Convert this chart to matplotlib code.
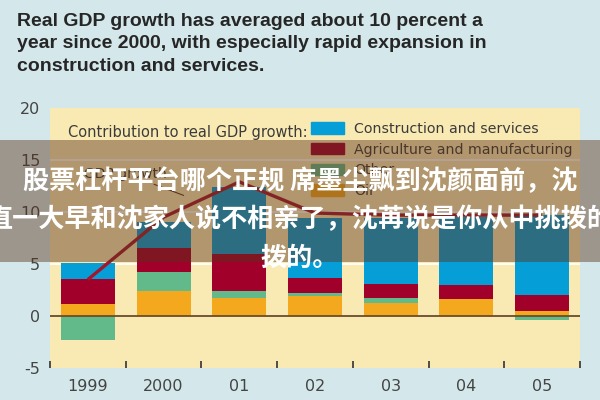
import numpy as np
import matplotlib
matplotlib.use('Agg')
from matplotlib import pyplot as plt
from matplotlib.patches import Patch, Rectangle

plt.rcParams['axes.unicode_minus'] = False

# contributions to real GDP growth, percentage points
years = ['1999', '2000', '01', '02', '03', '04', '05']
construction = [1.5, 2.5, 6.4, 5.75, 6.3, 6.5, 7.7]
agriculture = [2.45, 2.3, 3.6, 1.45, 1.4, 1.4, 1.5]
oil = [1.15, 2.4, 1.7, 1.9, 1.25, 1.6, 0.5]
other = [-2.3, 1.8, 0.7, 0.3, 0.45, 0.0, -0.4]
growth_curve = [3.5, 9.5, 12.9, 9.9, 9.7, 9.7, 9.7]

series = [('Oil', oil, '#f4a81d'),
          ('Other', other, '#62b98a'),
          ('Agriculture and manufacturing', agriculture, '#a1002b'),
          ('Construction and services', construction, '#069ed7')]

BG = '#d4e8eb'
PLOT_BG = '#f9e9b3'
TEXT = '#3b3b3b'

fig = plt.figure(figsize=(6, 4), dpi=100, facecolor=BG)
ax = fig.add_axes([50 / 600, 32 / 400, 530 / 600, 260 / 400])
ax.set_facecolor(PLOT_BG)

x = np.arange(len(years))
pos_bottom = np.zeros(len(years))
neg_bottom = np.zeros(len(years))
for name, values, color in series:
    v = np.array(values)
    bottom = np.where(v >= 0, pos_bottom, neg_bottom)
    ax.bar(x, v, width=0.713, bottom=bottom, color=color, linewidth=0, zorder=2)
    pos_bottom += np.clip(v, 0, None)
    neg_bottom += np.clip(v, None, 0)

for g in [5, 10, 15]:
    ax.axhline(g, color='white', linewidth=1.3, zorder=1)
ax.axhline(0, color='#6b4b2c', linewidth=1.3, zorder=3)

ax.plot(x, growth_curve, color='#a3162c', linewidth=2.4, zorder=4, solid_capstyle='butt')
ax.annotate('GDP growth', xy=(1.3, 11.5), xytext=(-0.05, 13.7),
            fontsize=10, color=TEXT, va='center',
            arrowprops=dict(arrowstyle='-', color='#5a3a2a', linewidth=0.8))

ax.set_xlim(-0.5, 6.5)
ax.set_ylim(-5, 20)
ax.set_yticks([-5, 0, 5, 10, 15, 20])
ax.set_xticks(x)
ax.set_xticklabels(years)
ax.set_xticks(np.arange(-0.5, 7, 1), minor=True)
ax.tick_params(axis='y', length=0, pad=7, labelsize=11.5, labelcolor='#444444')
ax.tick_params(axis='x', which='major', length=0, pad=8, labelsize=11.5, labelcolor='#444444')
ax.tick_params(axis='x', which='minor', direction='in', length=5, width=1.2, color='#333333')
for s in ax.spines.values():
    s.set_visible(False)

fig.text(68 / 600, 1 - 132 / 400, 'Contribution to real GDP growth:', fontsize=10.5,
         color=TEXT, va='center')
handles = [Patch(color=c, label=n) for n, _, c in series[::-1]]
fig.legend(handles=handles, loc='upper left', bbox_to_anchor=(311 / 600, 1 - 122 / 400),
           frameon=False, fontsize=10.2, handlelength=2.35, handleheight=0.85,
           handletextpad=0.7, labelspacing=0.47, borderpad=0, borderaxespad=0,
           labelcolor=TEXT)

title = ('Real GDP growth has averaged about 10 percent a\n'
         'year since 2000, with especially rapid expansion in\n'
         'construction and services.')
fig.text(17 / 600, 1 - 13 / 400, title, fontsize=14, fontweight='bold',
         family='Liberation Sans', color='#262626', va='top', linespacing=1.42)

# watermark banner
fig.patches.append(Rectangle((0, 1 - 262 / 400), 1, 122 / 400, transform=fig.transFigure,
                             facecolor=(0.36, 0.2, 0.1), alpha=0.45, linewidth=0, zorder=10))
wm = ['股票杠杆平台哪个正规 席墨尘飘到沈颜面前，沈',
      '直一大早和沈家人说不相亲了，沈苒说是你从中挑拨的',
      '拨的。']
for i, line in enumerate(wm):
    fig.text(0.5, 1 - (182 + 38 * i) / 400, line, fontsize=18.8, fontweight='bold',
             family=['Noto Sans CJK SC', 'DejaVu Sans'], color='white',
             ha='center', va='center', zorder=11)

plt.savefig('out.png', dpi=100, facecolor=BG)
plt.close()
